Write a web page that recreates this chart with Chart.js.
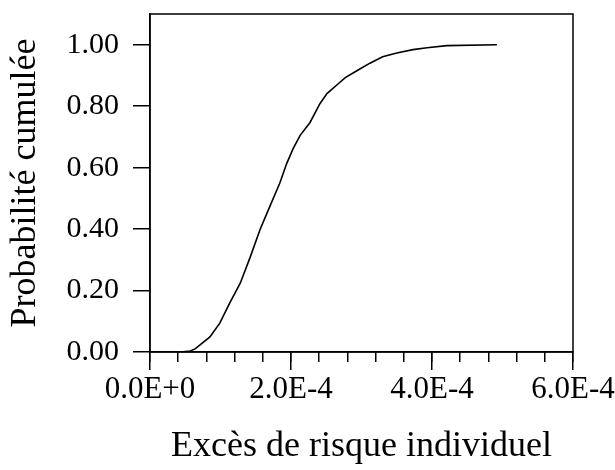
<!DOCTYPE html>
<html>
<head>
<meta charset="utf-8">
<script src="https://cdn.jsdelivr.net/npm/chart.js@4.4.0/dist/chart.umd.min.js"></script>
<style>
  body { margin: 0; background: #fff; }
  #wrap { width: 615px; height: 470px; }
</style>
</head>
<body>
<div id="wrap"><canvas id="myChart"></canvas></div>
<script>
// excès de risque individuel (x) et probabilité cumulée (y)
var excesRisque = [
    0.43e-4, 0.57e-4, 0.64e-4, 0.71e-4, 0.85e-4, 0.99e-4, 1.13e-4, 1.28e-4,
    1.42e-4, 1.56e-4, 1.70e-4, 1.84e-4, 1.94e-4, 2.03e-4, 2.13e-4, 2.27e-4,
    2.41e-4, 2.51e-4, 2.67e-4, 2.77e-4, 2.94e-4, 3.12e-4, 3.30e-4, 3.50e-4,
    3.73e-4, 3.93e-4, 4.21e-4, 4.92e-4
];
var probaCumulee = [
    0.000, 0.003, 0.010, 0.023, 0.049, 0.094, 0.159, 0.224,
    0.308, 0.398, 0.474, 0.549, 0.614, 0.662, 0.705, 0.747,
    0.808, 0.841, 0.873, 0.893, 0.916, 0.940, 0.961, 0.973,
    0.984, 0.990, 0.997, 1.000
];
var xTicks = [0, 2e-4, 4e-4, 6e-4];
var yTicks = [0, 0.2, 0.4, 0.6, 0.8, 1.0];

var points = excesRisque.map(function (x, i) {
    return { x: x, y: probaCumulee[i] };
});

var serif = 'Liberation Serif, Times New Roman, serif';

// cadre autour de la zone du graphique
var boxPlugin = {
    id: 'box',
    afterDraw: function (chart) {
        var a = chart.chartArea, c = chart.ctx;
        c.save();
        c.strokeStyle = '#000';
        c.lineWidth = 1.5;
        c.strokeRect(a.left, a.top, a.right - a.left, a.bottom - a.top);
        c.restore();
    }
};

function noPad(scale) {
    scale.paddingTop = 0;
    scale.paddingBottom = 0;
    scale.paddingLeft = 0;
    scale.paddingRight = 0;
}

var ctx = document.getElementById('myChart').getContext('2d');
var myChart = new Chart(ctx, {
    type: 'scatter',
    data: {
        datasets: [{
            data: points,
            showLine: true,
            borderColor: '#000',
            borderWidth: 1.6,
            pointRadius: 0,
            tension: 0,
            xAxisID: 'x',
            yAxisID: 'y'
        }]
    },
    options: {
        responsive: true,
        maintainAspectRatio: false,
        animation: false,
        layout: { padding: { top: 14, right: 42, left: 0, bottom: 0 } },
        plugins: { legend: { display: false }, tooltip: { enabled: false } },
        scales: {
            xMinor: {
                type: 'linear',
                position: 'bottom',
                weight: 0,
                min: 0,
                max: 6e-4,
                ticks: { display: false, stepSize: 0.4e-4 },
                grid: { drawOnChartArea: false, tickLength: 10, color: '#000', lineWidth: 1.5 },
                border: { display: false },
                afterFit: function (scale) { scale.height = 0; noPad(scale); }
            },
            x: {
                type: 'linear',
                position: 'bottom',
                weight: 10,
                min: 0,
                max: 6e-4,
                afterBuildTicks: function (scale) {
                    scale.ticks = xTicks.map(function (v) { return { value: v }; });
                },
                ticks: {
                    color: '#000',
                    font: { family: serif, size: 31 },
                    padding: 1,
                    maxRotation: 0,
                    callback: function (v) {
                        return v === 0 ? '0.0E+0' : (v * 1e4).toFixed(1) + 'E-4';
                    }
                },
                grid: { drawOnChartArea: false, tickLength: 18, color: '#000', lineWidth: 1.5 },
                border: { display: true, color: '#000', width: 1.5 },
                title: {
                    display: true,
                    text: 'Excès de risque individuel',
                    color: '#000',
                    font: { family: serif, size: 36, lineHeight: 1 },
                    padding: { top: 0, bottom: 5 }
                },
                afterFit: function (scale) { scale.height = 118; noPad(scale); }
            },
            y: {
                type: 'linear',
                position: 'left',
                min: 0,
                max: 1.1,
                afterBuildTicks: function (scale) {
                    scale.ticks = yTicks.map(function (v) { return { value: v }; });
                },
                ticks: {
                    color: '#000',
                    font: { family: serif, size: 30 },
                    padding: 14,
                    callback: function (v) { return v.toFixed(2); }
                },
                grid: { drawOnChartArea: false, tickLength: 17, color: '#000', lineWidth: 1.5 },
                border: { display: true, color: '#000', width: 1.5 },
                title: {
                    display: true,
                    text: 'Probabilité cumulée',
                    color: '#000',
                    font: { family: serif, size: 36, lineHeight: 1 },
                    padding: { top: 8, bottom: 0 }
                },
                afterFit: function (scale) { scale.width = 150; noPad(scale); }
            }
        }
    },
    plugins: [boxPlugin]
});
</script>
</body>
</html>
